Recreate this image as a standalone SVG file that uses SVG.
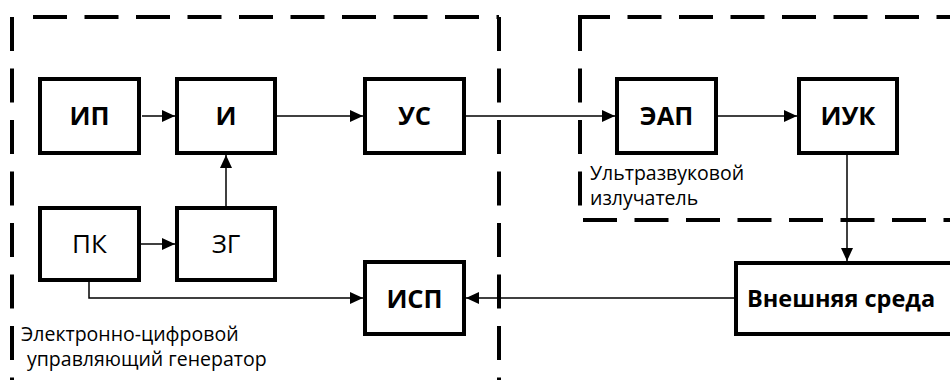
<svg xmlns="http://www.w3.org/2000/svg" width="950" height="380" viewBox="0 0 950 380">
<style>
.box{fill:#fff;stroke:#000;stroke-width:4}
.dash{fill:none;stroke:#000;stroke-width:4;stroke-dasharray:34 17.5}
.con{fill:none;stroke:#000;stroke-width:1.5}
.lb{font-family:"Open Sans","Noto Sans",sans-serif;font-size:25.5px;font-weight:bold;text-anchor:middle;fill:#000}
.lr{font-family:"Open Sans","Noto Sans",sans-serif;font-size:26px;text-anchor:middle;fill:#000}
.gl{font-family:"Open Sans","Noto Sans",sans-serif;font-size:19.5px;fill:#000}
</style>
<defs>
<marker id="ah" markerUnits="userSpaceOnUse" markerWidth="13" markerHeight="12" refX="13" refY="6" orient="auto">
<path d="M0,0 L13,6 L0,12 z" fill="#000"/>
</marker>
</defs>
<g id="group-left">
<line class="dash" x1="12" y1="17" x2="12" y2="380"/>
<line class="dash" x1="33" y1="17" x2="499" y2="17"/>
<line class="dash" x1="499" y1="17" x2="499" y2="380"/>
<text class="gl" x="21" y="341">Электронно-цифровой</text>
<text class="gl" x="27" y="366">управляющий генератор</text>
</g>
<g id="group-right">
<line class="dash" x1="580" y1="17" x2="580" y2="220"/>
<line class="dash" x1="578" y1="17" x2="950" y2="17" stroke-dashoffset="2"/>
<line class="dash" x1="583" y1="220" x2="950" y2="220"/>
<text class="gl" x="590" y="180">Ультразвуковой</text>
<text class="gl" x="590" y="205">излучатель</text>
</g>
<g id="connectors">
<path class="con" d="M142,116 H175" marker-end="url(#ah)"/>
<path class="con" d="M277,116 H363" marker-end="url(#ah)"/>
<path class="con" d="M466,116 H615" marker-end="url(#ah)"/>
<path class="con" d="M718,116 H797" marker-end="url(#ah)"/>
<path class="con" d="M226,206 V155" marker-end="url(#ah)"/>
<path class="con" d="M141,244 H175" marker-end="url(#ah)"/>
<path class="con" d="M89,282 V298 H363" marker-end="url(#ah)"/>
<path class="con" d="M734,298 H466" marker-end="url(#ah)"/>
<path class="con" d="M847,155 V261" marker-end="url(#ah)"/>
</g>
<g id="node-IP"><rect class="box" x="40" y="79" width="99" height="74"/><text class="lb" x="89.5" y="125">ИП</text></g>
<g id="node-I"><rect class="box" x="177" y="79" width="98" height="74"/><text class="lb" x="226" y="125">И</text></g>
<g id="node-US"><rect class="box" x="365" y="79" width="99" height="74"/><text class="lb" x="414.5" y="125">УС</text></g>
<g id="node-EAP"><rect class="box" x="617" y="79" width="99" height="74"/><text class="lb" x="666.5" y="125">ЭАП</text></g>
<g id="node-IUK"><rect class="box" x="799" y="79" width="98" height="74"/><text class="lb" x="848" y="125">ИУК</text></g>
<g id="node-PK"><rect class="box" x="40" y="208" width="99" height="72"/><text class="lr" x="89.5" y="253">ПК</text></g>
<g id="node-ZG"><rect class="box" x="177" y="208" width="98" height="72"/><text class="lr" x="226" y="253">ЗГ</text></g>
<g id="node-ISP"><rect class="box" x="365" y="262" width="99" height="72"/><text class="lb" x="414.5" y="308">ИСП</text></g>
<g id="node-env"><rect class="box" x="736" y="263" width="240" height="71"/><text class="lb" x="747" y="307" style="text-anchor:start;font-size:23.5px">Внешняя среда</text></g>
</svg>
